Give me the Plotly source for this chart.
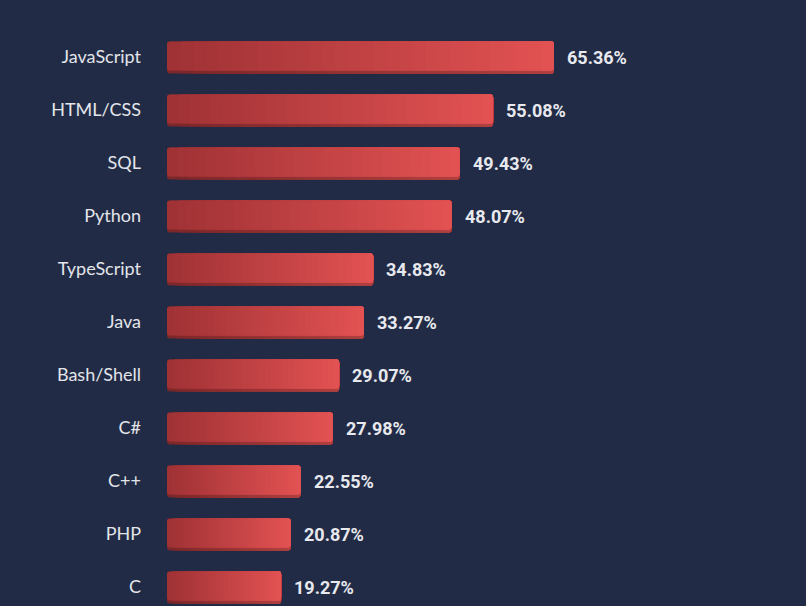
import plotly.graph_objects as go

# most used languages
languages = ["JavaScript", "HTML/CSS", "SQL", "Python", "TypeScript", "Java",
             "Bash/Shell", "C#", "C++", "PHP", "C"]
shares = [65.36, 55.08, 49.43, 48.07, 34.83, 33.27, 29.07, 27.98, 22.55, 20.87, 19.27]
labels = [f"{v:.2f}%" for v in shares]

bg = "#212b45"
n_seg = 30
left_rgb = (160, 50, 53)
right_rgb = (226, 82, 82)


def mix(t, dark=1.0):
    c = [int((a + (b - a) * t) * dark) for a, b in zip(left_rgb, right_rgb)]
    return f"rgb({c[0]},{c[1]},{c[2]})"


fig = go.Figure()

# bottom edge (darker), then the bar face on top; each slice runs to the bar end
# and the next one covers it, which gives the left-to-right gradient
for width, dark in [(32 / 53, 0.78), (29 / 53, 1.0)]:
    for k in range(n_seg):
        t = k / (n_seg - 1)
        fig.add_trace(go.Bar(
            y=languages,
            x=[v * (n_seg - k) / n_seg for v in shares],
            base=[v * k / n_seg for v in shares],
            orientation="h",
            width=width,
            offset=-15 / 53,
            marker=dict(color=mix(t, dark), line=dict(width=0), cornerradius=3),
            hoverinfo="skip",
            showlegend=False,
        ))

for lang, v, lab in zip(languages, shares, labels):
    fig.add_annotation(x=v, y=lang, text=lab, showarrow=False,
                       xanchor="left", xshift=11, yshift=-1,
                       font=dict(family="Roboto", size=18, color="#e8e9ee", weight="bold"))

fig.update_layout(
    width=806, height=606,
    margin=dict(l=167, r=0, t=30, b=0),
    paper_bgcolor=bg, plot_bgcolor=bg,
    barmode="overlay",
    xaxis=dict(range=[0, 639 / 5.92], visible=False),
    yaxis=dict(range=[10.37, -0.5], showgrid=False, zeroline=False,
               ticks="", ticklabelstandoff=25,
               tickfont=dict(family="Lato", size=18, color="#e3e5ea")),
)

fig.write_html("out.html", config={"displayModeBar": False},
               post_script="document.body.style.margin='0';")
